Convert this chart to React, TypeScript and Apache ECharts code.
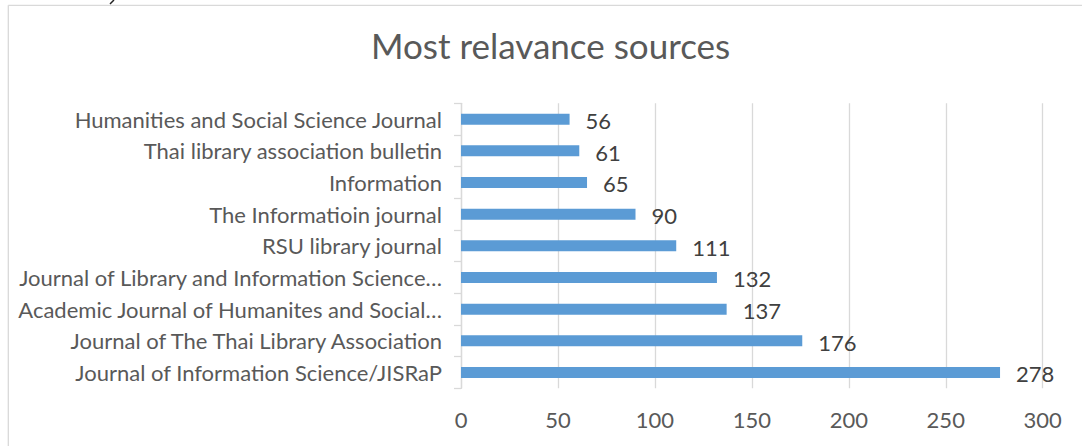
import React, { useEffect, useRef } from "react";
import * as echarts from "echarts";

const categories = [
  "Journal of Information Science/JISRaP",
  "Journal of The Thai Library Association",
  "Academic Journal of Humanites and Social…",
  "Journal of Library and Information Science…",
  "RSU library journal",
  "The Informatioin journal",
  "Information",
  "Thai library association bulletin",
  "Humanities and Social Science Journal",
];
const values = [278, 176, 137, 132, 111, 90, 65, 61, 56];
const xTicks = { min: 0, max: 300, interval: 50 };
const title = "Most relavance sources";

export default function App() {
  const ref = useRef<HTMLDivElement>(null);
  useEffect(() => {
    document.body.style.margin = "0";
    if (!ref.current) return;
    const chart = echarts.init(ref.current, null, { renderer: "svg" });
    const font = "Lato, 'Open Sans', sans-serif";
    chart.setOption({
      animation: false,
      backgroundColor: "#ffffff",
      textStyle: { fontFamily: font },
      title: {
        text: title,
        left: 371,
        top: 27,
        padding: 0,
        textStyle: { fontFamily: font, fontSize: 35, fontWeight: "normal", color: "#595959" },
      },
      grid: { left: 461, right: 39.3, top: 103.3, bottom: 57.7, containLabel: false },
      xAxis: {
        type: "value",
        min: xTicks.min,
        max: xTicks.max,
        interval: xTicks.interval,
        axisLine: { show: false },
        axisTick: { show: false },
        axisLabel: { color: "#595959", fontSize: 22, fontFamily: font, margin: 20 },
        splitLine: { show: true, lineStyle: { color: "#d9d9d9", width: 1.3 } },
      },
      yAxis: {
        type: "category",
        data: categories,
        axisLine: { show: true, lineStyle: { color: "#d9d9d9", width: 1.3 } },
        axisTick: { show: true, length: 7, inside: false, lineStyle: { color: "#d9d9d9", width: 1.3 } },
        axisLabel: { color: "#595959", fontSize: 22, fontFamily: font, margin: 19 },
      },
      series: [
        {
          type: "bar",
          data: values,
          barWidth: 11,
          itemStyle: { color: "#5b9bd5" },
          label: {
            show: true,
            position: "right",
            distance: 16,
            offset: [0, 1.5],
            color: "#404040",
            fontSize: 22,
            fontFamily: font,
          },
        },
      ],
      graphic: [
        { type: "line", shape: { x1: 8.3, y1: 5.3, x2: 1082, y2: 5.3 }, style: { stroke: "#d9d9d9", lineWidth: 1.3 } },
        { type: "line", shape: { x1: 8.3, y1: 5.3, x2: 8.3, y2: 446 }, style: { stroke: "#d9d9d9", lineWidth: 1.3 } },
        { type: "line", shape: { x1: 110, y1: 4, x2: 114, y2: 0 }, style: { stroke: "#222", lineWidth: 1.5 } },
      ],
    });
    return () => chart.dispose();
  }, []);
  return <div ref={ref} style={{ width: 1082, height: 446 }} />;
}
